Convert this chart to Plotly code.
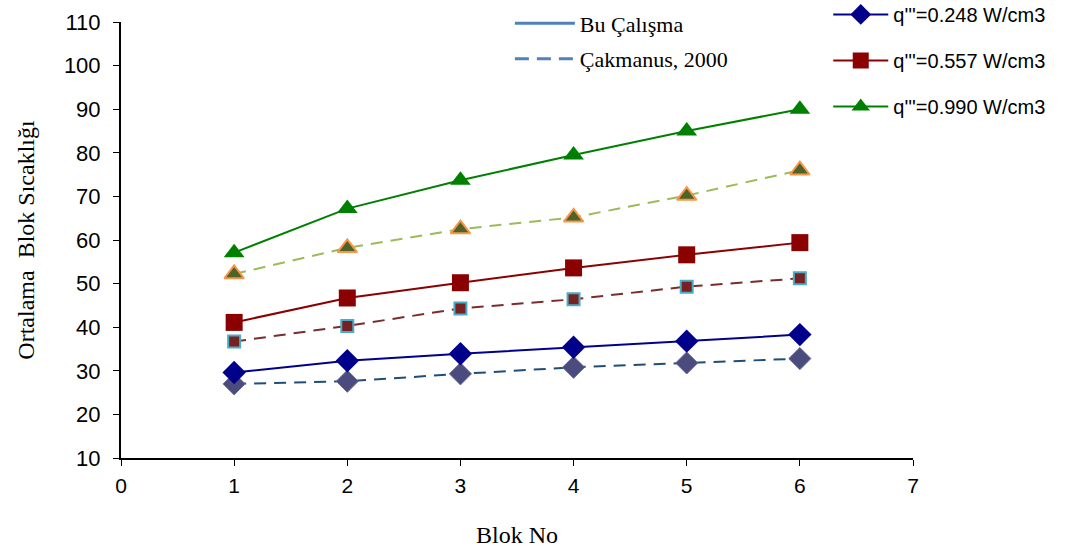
import plotly.graph_objects as go

blok = [1, 2, 3, 4, 5, 6]
q1_bu = [29.6, 32.3, 33.9, 35.4, 36.8, 38.3]
q1_cak = [27.0, 27.6, 29.3, 30.8, 31.8, 32.8]
q2_bu = [41.1, 46.7, 50.2, 53.6, 56.6, 59.4]
q2_cak = [36.7, 40.3, 44.3, 46.4, 49.3, 51.2]
q3_bu = [57.1, 67.2, 73.7, 79.5, 85.0, 90.0]
q3_cak = [52.2, 58.2, 62.5, 65.2, 70.2, 76.0]

names = ["q'''=0.248 W/cm3", "q'''=0.557 W/cm3", "q'''=0.990 W/cm3"]

fig = go.Figure()

# dashed (Çakmanus, 2000)
fig.add_trace(go.Scatter(x=blok, y=q1_cak, mode="lines+markers", showlegend=False,
    line=dict(color="#1f4e79", width=2, dash="12px,8px"),
    marker=dict(symbol="diamond", size=17, color="#4b4b7d", line=dict(color="#6a6a98", width=1))))
fig.add_trace(go.Scatter(x=blok, y=q2_cak, mode="lines+markers", showlegend=False,
    line=dict(color="#7b2c2c", width=2, dash="12px,8px"),
    marker=dict(symbol="square", size=12, color="#772222", line=dict(color="#4bacc6", width=2))))
fig.add_trace(go.Scatter(x=blok, y=q3_cak, mode="lines+markers", showlegend=False,
    line=dict(color="#9bbb59", width=2, dash="12px,8px"),
    marker=dict(symbol="triangle-up", size=17, color="#4f6228", line=dict(color="#f79646", width=2))))

# solid (Bu Çalışma)
fig.add_trace(go.Scatter(x=blok, y=q1_bu, mode="lines+markers", name=names[0], legendgroup="a",
    line=dict(color="#00008b", width=2),
    marker=dict(symbol="diamond", size=18, color="#00008b")))
fig.add_trace(go.Scatter(x=blok, y=q2_bu, mode="lines+markers", name=names[1], legendgroup="b",
    line=dict(color="#8b0000", width=2),
    marker=dict(symbol="square", size=17, color="#8b0000")))
fig.add_trace(go.Scatter(x=blok, y=q3_bu, mode="lines+markers", name=names[2], legendgroup="c",
    line=dict(color="#008000", width=2),
    marker=dict(symbol="triangle-up", size=18, color="#008000")))

# line-style legend
fig.add_trace(go.Scatter(x=[None], y=[None], mode="lines", name="Bu Çalışma", legend="legend2",
    legendgroup="d", line=dict(color="#4f81bd", width=3)))
fig.add_trace(go.Scatter(x=[None], y=[None], mode="lines", name="Çakmanus, 2000", legend="legend2",
    legendgroup="e", line=dict(color="#4f81bd", width=3, dash="14px,8px")))

fig.update_layout(
    width=1090, height=554,
    margin=dict(l=121, r=177, t=22, b=96, autoexpand=False),
    paper_bgcolor="white", plot_bgcolor="white",
    font=dict(family="Liberation Sans, Arial", color="#000000"),
    xaxis=dict(range=[0, 7], tickvals=list(range(0, 8)), showgrid=False, zeroline=False,
               showline=True, linecolor="#000", linewidth=2, ticks="outside", ticklen=6,
               tickcolor="#000", tickfont=dict(size=21, family="Liberation Sans"),
               ticklabelstandoff=2,
               title=dict(text="Blok No", font=dict(family="Liberation Serif", size=24), standoff=30)),
    yaxis=dict(range=[10, 110], tickvals=list(range(10, 111, 10)), showgrid=False, zeroline=False,
               showline=True, linecolor="#000", linewidth=2, ticks="outside", ticklen=6,
               tickcolor="#000", tickfont=dict(size=22, family="Liberation Sans"),
               ticklabelstandoff=8,
               title=dict(text="Ortalama  Blok Sıcaklığı", font=dict(family="Liberation Serif", size=24), standoff=22)),
    legend=dict(x=0.893, xanchor="left", y=1.062, yanchor="top", xref="paper", yref="paper",
                font=dict(size=20, family="Liberation Sans"), bgcolor="rgba(0,0,0,0)",
                tracegroupgap=17, traceorder="grouped", itemwidth=55),
    legend2=dict(x=0.491, xanchor="left", y=1.045, yanchor="top", xref="paper", yref="paper",
                 font=dict(size=22, family="Liberation Serif"), bgcolor="rgba(0,0,0,0)",
                 tracegroupgap=4, traceorder="grouped", itemwidth=60),
)

fig.write_html("out.html")
